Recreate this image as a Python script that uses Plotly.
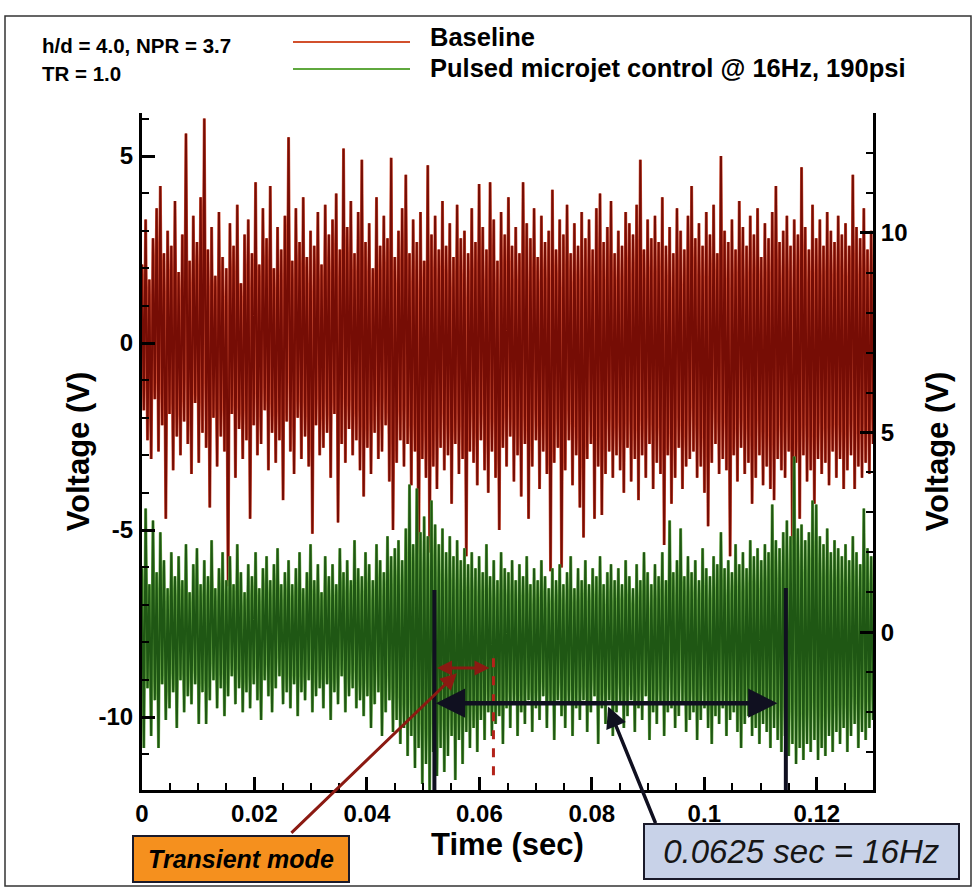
import numpy as np
import plotly.graph_objects as go

# ---- data -----------------------------------------------------------------
duration = 0.13  # s, length of the record shown

# Baseline jet, microphone voltage (left axis)
baseline_v = [
    2.1, -1.8, 3.3, -2.6, 1.7, -3.1, 2.8, -1.5, 3.6, -2.9, 4.2, -2.2, 2.4, -4.7, 3.0, -1.9, 2.6, -3.4, 3.8, -2.5,
    1.9, -3.0, 2.9, -2.1, 5.6, -2.7, 2.2, -3.5, 3.4, -1.6, 2.7, -3.2, 3.9, -2.4, 6.0, -2.8, 2.5, -4.4, 3.1, -2.0,
    1.8, -3.3, 3.5, -2.5, 2.3, -2.9, 2.0, -6.5, 3.2, -1.9, 2.6, -3.6, 3.7, -2.3, 1.6, -3.1, 2.9, -2.6, 3.3, -4.7,
    2.4, -2.2, 4.3, -3.0, 2.1, -2.7, 3.6, -1.8, 2.8, -3.4, 4.2, -2.4, 2.0, -3.2, 3.1, -2.6, 2.5, -4.2, 3.4, -2.1,
    5.5, -2.9, 2.2, -3.5, 3.6, -2.0, 2.7, -3.1, 3.9, -2.5, 2.3, -3.3, 3.0, -5.1, 2.6, -2.2, 3.5, -3.0, 2.1, -2.8,
    3.7, -2.4, 2.9, -3.6, 3.3, -1.9, 4.0, -4.8, 2.5, -2.7, 5.2, -3.2, 3.1, -2.3, 3.8, -3.0, 2.4, -2.6, 3.5, -3.4,
    4.9, -4.1, 2.7, -2.8, 3.2, -3.5, 2.0, -2.4, 3.9, -3.1, 2.6, -2.9, 3.4, -2.2, 2.8, -3.7, 4.95, -5.0, 2.3, -3.2,
    3.0, -2.6, 3.6, -3.3, 4.5, -2.7, 2.4, -3.8, 3.3, -2.9, 2.7, -6.4, 3.5, -3.1, 2.2, -3.6, 4.75, -5.6, 2.9, -3.3,
    3.4, -3.9, 2.5, -2.8, 3.8, -3.4, 2.6, -3.0, 3.2, -4.3, 2.3, -2.7, 3.7, -3.5, 2.8, -3.1, 3.0, -5.7, 2.4, -2.9,
    3.6, -3.2, 2.7, -3.8, 4.25, -2.6, 3.1, -3.4, 2.5, -4.0, 4.3, -2.9, 3.3, -3.6, 2.2, -5.0, 3.5, -2.8, 2.9, -3.3,
    3.9, -2.5, 2.6, -3.7, 3.1, -3.0, 2.4, -4.1, 4.3, -2.7, 3.2, -4.7, 2.8, -3.3, 3.6, -2.6, 2.3, -3.9, 3.4, -2.9,
    2.7, -3.5, 3.0, -6.1, 4.1, -3.2, 2.5, -2.8, 3.3, -6.0, 2.9, -3.4, 3.7, -2.6, 2.4, -3.8, 3.2, -3.0, 2.6, -4.4,
    3.5, -5.2, 2.8, -3.1, 3.3, -2.7, 2.5, -4.7, 3.6, -3.3, 4.0, -4.6, 2.7, -3.5, 3.1, -2.9, 3.8, -3.6, 2.4, -3.0,
    3.0, -3.4, 2.6, -4.0, 3.5, -2.8, 3.2, -3.7, 2.9, -3.1, 3.7, -4.2, 4.9, -3.0, 2.5, -3.6, 3.3, -2.7, 2.8, -3.9,
    3.4, -3.2, 2.7, -3.5, 3.9, -5.4, 2.6, -3.0, 3.1, -4.3, 2.4, -3.6, 3.6, -2.8, 3.0, -3.9, 2.5, -3.3, 3.4, -3.1,
    4.2, -2.9, 2.8, -3.6, 3.2, -3.3, 2.6, -4.0, 3.5, -4.9, 2.9, -3.2, 3.7, -2.7, 2.4, -3.5, 5.0, -3.1, 3.0, -3.4,
    2.7, -5.7, 3.3, -3.0, 2.5, -3.7, 3.8, -2.8, 3.1, -3.5, 2.6, -3.2, 3.4, -4.3, 2.9, -3.6, 3.6, -3.0, 2.3, -3.8,
    3.2, -3.3, 2.8, -3.9, 3.5, -4.2, 4.2, -3.1, 2.7, -3.4, 3.0, -3.6, 3.4, -2.9, 2.6, -5.5, 3.3, -3.2, 2.9, -4.7,
    4.7, -3.0, 3.1, -3.7, 2.5, -3.4, 3.7, -4.3, 2.8, -3.1, 3.3, -3.5, 2.6, -3.2, 3.5, -3.8, 3.0, -2.9, 2.7, -3.6,
    3.4, -3.1, 2.9, -3.9, 3.2, -3.4, 2.6, -3.0, 4.5, -3.9, 3.1, -3.3, 2.8, -3.6, 3.6, -3.2, 2.5, -3.5, 3.0, -2.7,
]

# Pulsed microjet control at 16 Hz, microphone voltage (right axis)
pulsed_v = [
    1.6, -2.9, 3.1, -1.4, 1.2, -2.6, 2.8, -1.7, 1.5, -2.9, 2.5, -1.3, 1.8, -2.2, 1.1, -1.9, 2.0, -1.5, 1.4, -2.4,
    1.9, -1.2, 1.3, -2.0, 2.2, -1.6, 1.0, -1.8, 1.7, -1.3, 2.1, -2.3, 1.2, -1.5, 1.8, -2.3, 1.4, -1.7, 2.3, -1.2,
    1.1, -1.9, 1.6, -1.4, 2.0, -2.1, 1.3, -1.6, 1.9, -1.1, 1.2, -1.8, 2.2, -1.4, 1.5, -2.0, 1.0, -1.5, 1.7, -1.9,
    1.4, -1.3, 2.0, -1.7, 1.1, -2.2, 1.6, -1.2, 1.9, -1.6, 1.3, -2.0, 1.7, -1.4, 2.1, -1.1, 1.2, -1.8, 1.5, -1.5,
    1.8, -1.9, 1.2, -1.3, 1.6, -2.1, 2.0, -1.5, 1.1, -1.7, 1.5, -1.2, 2.2, -2.0, 1.3, -1.6, 1.7, -1.4, 1.0, -1.9,
    1.9, -1.3, 1.4, -2.2, 1.7, -1.5, 1.2, -1.8, 2.1, -1.1, 1.5, -2.0, 1.8, -1.6, 1.3, -1.4, 2.3, -1.9, 1.6, -1.7,
    1.4, -2.1, 2.0, -1.6, 1.7, -2.4, 1.3, -1.8, 2.2, -1.5, 1.8, -2.6, 1.5, -2.0, 2.4, -1.7, 1.9, -2.5, 2.1, -2.2,
    2.3, -2.8, 1.8, -2.4, 2.6, -3.1, 3.7, -2.6, 2.2, -3.4, 3.6, -2.9, 2.5, -3.8, 2.9, -3.3, 2.4, -4.0, 3.3, -3.0,
    2.7, -3.6, 2.2, -2.9, 2.6, -3.5, 2.0, -3.1, 2.4, -2.6, 1.9, -3.7, 2.3, -2.7, 1.8, -3.3, 2.1, -2.5, 1.7, -2.9,
    2.0, -2.4, 1.6, -3.0, 1.9, -2.2, 1.5, -2.7, 2.2, -2.0, 1.4, -2.6, 1.8, -2.3, 1.3, -2.1, 2.0, -2.8, 1.6, -1.9,
    1.5, -2.4, 1.8, -1.8, 1.3, -2.6, 1.7, -2.0, 1.4, -2.3, 1.9, -1.7, 1.2, -2.5, 1.6, -1.9, 1.3, -2.2, 1.8, -1.6,
    1.4, -2.4, 1.1, -1.8, 1.6, -2.7, 1.3, -1.7, 1.7, -2.1, 1.2, -2.4, 1.5, -1.8, 1.9, -2.6, 1.1, -1.9, 1.6, -2.2,
    1.3, -1.7, 1.8, -2.5, 1.2, -2.0, 1.6, -1.6, 1.4, -2.8, 1.9, -1.9, 1.2, -2.3, 1.5, -1.7, 1.7, -2.6, 1.3, -2.0,
    1.6, -1.8, 1.2, -2.4, 1.8, -2.1, 1.4, -1.7, 1.1, -2.5, 1.7, -1.9, 1.3, -2.2, 2.0, -1.6, 1.5, -2.7, 1.2, -2.0,
    1.7, -2.3, 1.4, -1.8, 2.0, -2.6, 1.3, -2.0, 2.8, -1.9, 1.5, -2.4, 1.8, -2.1, 2.6, -1.8, 1.4, -2.5, 1.9, -2.2,
    1.5, -2.0, 1.8, -2.7, 1.3, -2.2, 2.1, -1.9, 1.6, -2.4, 1.4, -2.8, 1.9, -2.1, 1.7, -2.3, 2.5, -1.9, 1.6, -2.6,
    1.8, -2.2, 1.5, -2.0, 2.2, -2.5, 1.7, -2.9, 2.0, -2.3, 1.6, -2.1, 2.3, -2.6, 1.9, -2.4, 2.1, -2.8, 1.8, -2.3,
    2.2, -2.5, 2.0, -2.9, 3.2, -2.4, 2.3, -2.7, 2.1, -3.0, 2.5, -2.6, 2.8, -3.1, 2.4, -2.8, 4.4, -3.3, 2.6, -2.9,
    2.7, -3.2, 2.3, -2.8, 2.5, -3.0, 3.3, -2.7, 3.2, -3.2, 2.4, -2.9, 2.2, -3.1, 2.6, -2.6, 2.0, -3.0, 2.3, -2.5,
    2.1, -2.8, 1.9, -2.4, 2.2, -3.0, 1.8, -2.6, 2.4, -2.3, 2.0, -2.9, 1.7, -2.5, 3.1, -2.7, 2.1, -2.4, 1.9, -2.2,
]

x_ticks = [0, 0.02, 0.04, 0.06, 0.08, 0.1, 0.12]
y_left_ticks = [-10, -5, 0, 5]
y_left_text = ["-10", "-5", "0", "5"]
y_right_ticks = [0, 5, 10]
y_right_text = ["0", "5", "10"]

pulse_period = 0.0625     # s, 16 Hz actuation
period_start = 0.052      # s, start of the marked period
transient_end = 0.0625    # s, end of the transient

t_base = np.linspace(0, duration, len(baseline_v))
t_pulse = np.linspace(0, duration, len(pulsed_v))

# ---- geometry of the plot area (pixels) -------------------------------------
W_FIG, H_FIG = 975, 888
L, R, T, B = 142, 873, 113, 790
PW, PH = R - L, B - T


def px(xp):
    return (xp - L) / PW


def py(yp):
    return (B - yp) / PH


FONT = "Liberation Sans, Arial, Helvetica, sans-serif"

fig = go.Figure()
# each record is drawn twice: a light halo under a darker core line
for y, t, axis, halo, core in ((baseline_v, t_base, "y", "#d4553a", "#760d05"),
                               (pulsed_v, t_pulse, "y2", "#72b14e", "#1f5714")):
    fig.add_trace(go.Scatter(x=t, y=y, mode="lines", line=dict(color=halo, width=3.0),
                             showlegend=False, hoverinfo="skip", yaxis=axis))
    fig.add_trace(go.Scatter(x=t, y=y, mode="lines", line=dict(color=core, width=2.0),
                             showlegend=False, yaxis=axis))

axis_common = dict(showline=True, linewidth=3, linecolor="black", showgrid=False,
                   zeroline=False, ticks="inside", tickwidth=2.5, tickcolor="black",
                   ticklen=13,
                   tickfont=dict(family=FONT, size=24, color="black", weight="bold"))
minor_common = dict(ticks="inside", ticklen=7, tickwidth=2, tickcolor="black")
title_font = dict(family=FONT, size=31, color="black")

fig.update_layout(
    width=W_FIG, height=H_FIG,
    margin=dict(l=L, r=W_FIG - R, t=T, b=H_FIG - B),
    paper_bgcolor="white", plot_bgcolor="white",
    xaxis=dict(range=[0, duration], tickvals=x_ticks,
               minor=dict(dtick=0.005, tick0=0, **minor_common),
               title=dict(text="<b>Time (sec)</b>", font=title_font, standoff=0),
               ticklabelstandoff=0,
               **axis_common),
    yaxis=dict(range=[-11.95, 6.15], tickvals=y_left_ticks, ticktext=y_left_text,
               minor=dict(dtick=1, tick0=0, **minor_common),
               title=dict(text="<b>Voltage (V)</b>", font=title_font, standoff=0),
               ticklabelstandoff=1,
               **axis_common),
    yaxis2=dict(range=[-3.95, 13.0], tickvals=y_right_ticks, ticktext=y_right_text,
                overlaying="y", side="right", anchor="x",
                minor=dict(dtick=1, tick0=0, **minor_common),
                title=dict(text="<b>Voltage (V)</b>", font=title_font, standoff=20),
                ticklabelstandoff=0,
                **axis_common),
)

shapes = []
annotations = []

# outer frame of the figure
shapes.append(dict(type="rect", xref="paper", yref="paper",
                   x0=px(5), x1=px(971), y0=py(886), y1=py(16),
                   line=dict(color="#333333", width=1.5)))

# legend samples and labels
shapes.append(dict(type="line", xref="paper", yref="paper", x0=px(293), x1=px(410),
                   y0=py(42), y1=py(42), line=dict(color="#d2502c", width=2)))
shapes.append(dict(type="line", xref="paper", yref="paper", x0=px(293), x1=px(410),
                   y0=py(69), y1=py(69), line=dict(color="#5fa83e", width=2)))
annotations.append(dict(xref="paper", yref="paper", x=px(428), y=py(37), xanchor="left", yanchor="middle",
                        text="<b>Baseline</b>", showarrow=False,
                        font=dict(family=FONT, size=25.5, color="black")))
annotations.append(dict(xref="paper", yref="paper", x=px(428), y=py(68.5), xanchor="left", yanchor="middle",
                        text="<b>Pulsed microjet control @ 16Hz, 190psi</b>", showarrow=False,
                        font=dict(family=FONT, size=25.5, color="black")))
annotations.append(dict(xref="paper", yref="paper", x=px(40), y=py(46), xanchor="left", yanchor="middle",
                        text="<b>h/d = 4.0, NPR = 3.7</b>", showarrow=False,
                        font=dict(family=FONT, size=20.5, color="black")))
annotations.append(dict(xref="paper", yref="paper", x=px(40), y=py(73), xanchor="left", yanchor="middle",
                        text="<b>TR = 1.0</b>", showarrow=False,
                        font=dict(family=FONT, size=20.5, color="black")))

# one actuation period: bounding lines and double arrow
period_end = period_start + pulse_period
for xv, ytop in ((period_start, -6.6), (period_end, -6.55)):
    shapes.append(dict(type="line", xref="x", yref="y", x0=xv, x1=xv, y0=ytop, y1=-11.95,
                       line=dict(color="#101020", width=4)))
annotations.append(dict(xref="x", yref="y", axref="x", ayref="y",
                        x=period_end - 0.0015, y=-9.63, ax=period_start, ay=-9.63,
                        text="", showarrow=True, arrowhead=2, arrowside="end+start",
                        arrowsize=1.3, arrowwidth=4.5, arrowcolor="#101020", standoff=0, startstandoff=0))

# transient: dashed end line and small double arrow
shapes.append(dict(type="line", xref="x", yref="y", x0=transient_end, x1=transient_end,
                   y0=-8.43, y1=-11.7, line=dict(color="#b3231a", width=3, dash="dash")))
annotations.append(dict(xref="x", yref="y", axref="x", ayref="y",
                        x=transient_end - 0.0007, y=-8.69, ax=period_start + 0.0002, ay=-8.69,
                        text="", showarrow=True, arrowhead=2, arrowside="end+start",
                        arrowsize=1, arrowwidth=3, arrowcolor="#8b1a12", standoff=0, startstandoff=0))

# callout boxes with leader arrows
annotations.append(dict(xref="x", yref="y", x=0.056, y=-8.83, ax=-167, ay=161,
                        text="", showarrow=True, arrowhead=2, arrowsize=1.1, arrowwidth=3,
                        arrowcolor="#8b1a12", standoff=0))
annotations.append(dict(xref="x", yref="y", x=0.0829, y=-9.72, ax=48, ay=118,
                        text="", showarrow=True, arrowhead=2, arrowsize=1.2, arrowwidth=3.5,
                        arrowcolor="#101020", standoff=0))
annotations.append(dict(xref="paper", yref="paper", x=px(241), y=py(858.5), xanchor="center", yanchor="middle",
                        text="<b><i>Transient mode</i></b>", showarrow=False,
                        font=dict(family=FONT, size=25, color="black"),
                        bgcolor="#f5901e", bordercolor="#1a1a2a", borderwidth=2,
                        width=212, height=42, borderpad=1))
annotations.append(dict(xref="paper", yref="paper", x=px(801.5), y=py(851.5), xanchor="center", yanchor="middle",
                        text="<i>0.0625 sec = 16Hz</i>", showarrow=False,
                        font=dict(family=FONT, size=33, color="#161616"),
                        bgcolor="#c8d2e8", bordercolor="#1a1a2a", borderwidth=2,
                        width=311, height=51, borderpad=1))

fig.update_layout(shapes=shapes, annotations=annotations)

fig.write_html("out.html")
